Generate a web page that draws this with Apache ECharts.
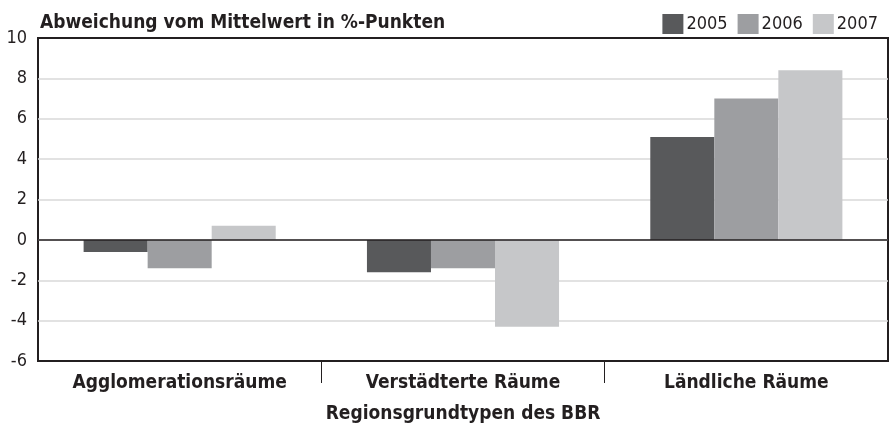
<!DOCTYPE html>
<html>
<head>
<meta charset="utf-8">
<script src="https://cdn.jsdelivr.net/npm/echarts@6/dist/echarts.min.js"></script>
<style>
  html, body { margin: 0; padding: 0; background: #fff; }
  #main { width: 890px; height: 425px; }
</style>
</head>
<body>
<div id="main"></div>
<script>
const categories = ['Agglomerationsräume', 'Verstädterte Räume', 'Ländliche Räume']
const years = ['2005', '2006', '2007']
const values2005 = [-0.6, -1.6, 5.1]
const values2006 = [-1.4, -1.4, 7.0]
const values2007 = [0.7, -4.3, 8.4]
const yTicks = { min: -6, max: 10, step: 2 }
// helper slots: 4 points spread over the width, the inner two mark the category borders
const separatorSlots = ['', '', '', '']

const font = "'Liberation Sans Narrow', 'DejaVu Sans Condensed', sans-serif"
const dark = '#231f20'
const colors = ['#58595b', '#9d9ea1', '#c6c7c9']

const barSeries = (name, data, i) => ({
  name: name,
  type: 'bar',
  data: data,
  barWidth: '22.6%',
  barGap: '0%',
  itemStyle: { color: colors[i] },
  xAxisIndex: 0
})

let series = [
  barSeries(years[0], values2005, 0),
  barSeries(years[1], values2006, 1),
  barSeries(years[2], values2007, 2)
]
series[0].markLine = {
  silent: true,
  symbol: ['none', 'none'],
  label: { show: false },
  lineStyle: { color: dark, width: 1.5, type: 'solid' },
  data: [{ yAxis: 0 }]
}

let option = {
  animation: false,
  backgroundColor: '#fff',
  textStyle: { fontFamily: font, color: dark },
  title: {
    text: 'Abweichung vom Mittelwert in %-Punkten',
    left: 35,
    top: 9,
    textStyle: { fontFamily: font, fontSize: 19, fontWeight: 'bold', color: dark }
  },
  legend: {
    right: 7,
    top: 9,
    itemWidth: 21,
    itemHeight: 20,
    itemGap: 10,
    icon: 'rect',
    data: years,
    textStyle: { fontFamily: font, fontSize: 18, color: dark, padding: [0, 0, 0, -2] }
  },
  grid: {
    left: 38,
    right: 2,
    top: 38,
    bottom: 64,
    outerBoundsMode: 'none',
    containLabel: false,
    show: true,
    borderColor: dark,
    borderWidth: 2
  },
  xAxis: [
    {
      type: 'category',
      data: categories,
      position: 'bottom',
      axisLine: { show: false },
      axisTick: { show: false },
      axisLabel: { margin: 13, fontFamily: font, fontSize: 19, fontWeight: 'bold', color: dark },
      name: 'Regionsgrundtypen des BBR',
      nameLocation: 'middle',
      nameGap: 44,
      nameTextStyle: { fontFamily: font, fontSize: 19, fontWeight: 'bold', color: dark }
    },
    {
      type: 'category',
      data: separatorSlots,
      position: 'bottom',
      boundaryGap: false,
      axisLine: { show: false },
      axisLabel: { show: false },
      splitLine: { show: false },
      axisTick: {
        show: true,
        length: 22,
        interval: (index) => index === 1 || index === 2,
        lineStyle: { color: dark, width: 1 }
      }
    }
  ],
  yAxis: {
    type: 'value',
    min: yTicks.min,
    max: yTicks.max,
    interval: yTicks.step,
    axisLine: { show: false },
    axisTick: { show: false },
    axisLabel: { margin: 11, fontFamily: font, fontSize: 18, color: dark },
    splitLine: {
      showMinLine: false,
      showMaxLine: false,
      lineStyle: { color: '#d9d9d9', width: 1.5 }
    }
  },
  series: series
}

let myChart = echarts.init(document.getElementById('main'))
myChart.setOption(option)
</script>
</body>
</html>
